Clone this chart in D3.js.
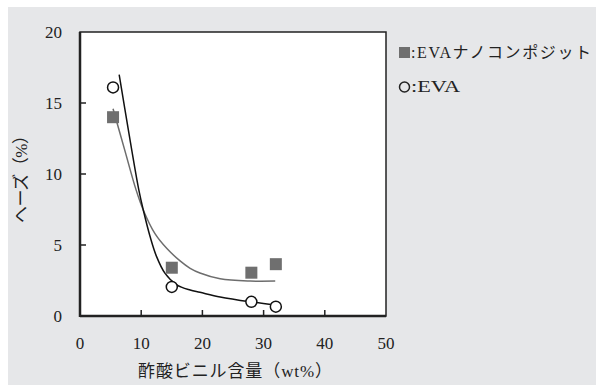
<!DOCTYPE html>
<html>
<head>
<meta charset="utf-8">
<script src="https://cdn.jsdelivr.net/npm/d3@7"></script>
<style>
body { margin: 0; background: #fff; }
</style>
</head>
<body>
<div id="chart"></div>
<script>
var width = 596;
var height = 386;

// measured points
var vinylX = [5.4, 15, 28, 32];
var nanoY = [14.0, 3.4, 3.05, 3.65];
var evaY = [16.1, 2.05, 1.0, 0.66];

// fitted curves
var evaCurveX = [6.4, 7.9, 9.6, 10.35, 11.45, 12.5, 13.9, 15.8, 18, 19.6, 22.9, 27.8, 31.9];
var evaCurveY = [17.0, 13.1, 8.9, 7.45, 5.6, 4.2, 3.0, 2.2, 1.83, 1.67, 1.34, 1.0, 0.77];
var nanoCurveX = [5.4, 7.3, 9.15, 10.35, 12.25, 14.2, 16.3, 18, 19.6, 22.9, 27.8, 31.9];
var nanoCurveY = [14.6, 11.7, 8.9, 7.45, 5.8, 4.75, 3.9, 3.36, 3.03, 2.62, 2.46, 2.46];

var xTicks = [0, 10, 20, 30, 40, 50];
var yTicks = [0, 5, 10, 15, 20];

var serif = "'Liberation Serif', 'Times New Roman', 'DejaVu Serif', serif, 'Noto Sans CJK JP'";

var svg = d3.select("#chart").append("svg")
    .attr("width", width)
    .attr("height", height)
    .style("font-family", serif)
    .attr("fill", "#222");

svg.append("rect")
    .attr("x", 8).attr("y", 7)
    .attr("width", width - 8).attr("height", 378)
    .attr("fill", "#e6e7e9");

var pLeft = 80, pRight = 386, pTop = 32, pBottom = 316;

var x = d3.scaleLinear().domain([0, 50]).range([pLeft, pRight]);
var y = d3.scaleLinear().domain([0, 20]).range([pBottom, pTop]);

svg.append("rect")
    .attr("x", pLeft).attr("y", pTop)
    .attr("width", pRight - pLeft).attr("height", pBottom - pTop)
    .attr("fill", "#fff")
    .attr("stroke", "#222")
    .attr("stroke-width", 1.5);

// heavier left and bottom edges
svg.append("line")
    .attr("x1", pLeft).attr("x2", pLeft).attr("y1", pTop).attr("y2", pBottom + 1)
    .attr("stroke", "#222").attr("stroke-width", 2.5);
svg.append("line")
    .attr("x1", pLeft).attr("x2", pRight).attr("y1", pBottom).attr("y2", pBottom)
    .attr("stroke", "#222").attr("stroke-width", 2.5);

// inward ticks
svg.append("g").selectAll("line")
    .data(xTicks.slice(1, -1))
    .enter().append("line")
    .attr("x1", x).attr("x2", x)
    .attr("y1", pBottom).attr("y2", pBottom - 6)
    .attr("stroke", "#222").attr("stroke-width", 1.5);

svg.append("g").selectAll("line")
    .data(yTicks.slice(1, -1))
    .enter().append("line")
    .attr("x1", pLeft).attr("x2", pLeft + 6)
    .attr("y1", y).attr("y2", y)
    .attr("stroke", "#222").attr("stroke-width", 1.5);

svg.append("g").selectAll("text")
    .data(xTicks)
    .enter().append("text")
    .attr("x", x)
    .attr("y", 349)
    .attr("text-anchor", "middle")
    .style("font-size", "17px")
    .text(function (d) { return d; });

svg.append("g").selectAll("text")
    .data(yTicks)
    .enter().append("text")
    .attr("x", 62)
    .attr("y", function (d) { return y(d) + 6; })
    .attr("text-anchor", "end")
    .style("font-size", "17px")
    .text(function (d) { return d; });

svg.append("text")
    .attr("x", 138)
    .attr("y", 377)
    .attr("textLength", 194)
    .attr("lengthAdjust", "spacing")
    .style("font-size", "17px")
    .text("酢酸ビニル含量（wt%）");

svg.append("text")
    .attr("transform", "translate(27,223) rotate(-90)")
    .attr("textLength", 96)
    .attr("lengthAdjust", "spacing")
    .style("font-size", "17px")
    .text("ヘーズ（%）");

// curves
var line = d3.line()
    .x(function (d) { return x(d[0]); })
    .y(function (d) { return y(d[1]); })
    .curve(d3.curveCatmullRom.alpha(0.5));

svg.append("path")
    .attr("d", line(d3.zip(nanoCurveX, nanoCurveY)))
    .attr("fill", "none")
    .attr("stroke", "#6d6d6d")
    .attr("stroke-width", 1.5);

svg.append("path")
    .attr("d", line(d3.zip(evaCurveX, evaCurveY)))
    .attr("fill", "none")
    .attr("stroke", "#111")
    .attr("stroke-width", 1.5);

// markers
var sq = 12;
svg.append("g").selectAll("rect")
    .data(d3.zip(vinylX, nanoY))
    .enter().append("rect")
    .attr("x", function (d) { return x(d[0]) - sq / 2; })
    .attr("y", function (d) { return y(d[1]) - sq / 2; })
    .attr("width", sq).attr("height", sq)
    .attr("fill", "#6f6f6f");

svg.append("g").selectAll("circle")
    .data(d3.zip(vinylX, evaY))
    .enter().append("circle")
    .attr("cx", function (d) { return x(d[0]); })
    .attr("cy", function (d) { return y(d[1]); })
    .attr("r", 5.5)
    .attr("fill", "#fff")
    .attr("stroke", "#111")
    .attr("stroke-width", 1.5);

// legend
svg.append("rect")
    .attr("x", 399).attr("y", 47)
    .attr("width", 11).attr("height", 11)
    .attr("fill", "#6f6f6f");
svg.append("text")
    .attr("x", 411).attr("y", 58)
    .attr("textLength", 180)
    .attr("lengthAdjust", "spacing")
    .style("font-size", "16px")
    .text(":EVAナノコンポジット");

svg.append("circle")
    .attr("cx", 404.5).attr("cy", 87)
    .attr("r", 5)
    .attr("fill", "none")
    .attr("stroke", "#222")
    .attr("stroke-width", 1.5);
svg.append("text")
    .attr("x", 411).attr("y", 92)
    .attr("textLength", 49)
    .attr("lengthAdjust", "spacingAndGlyphs")
    .style("font-size", "16px")
    .text(":EVA");
</script>
</body>
</html>
